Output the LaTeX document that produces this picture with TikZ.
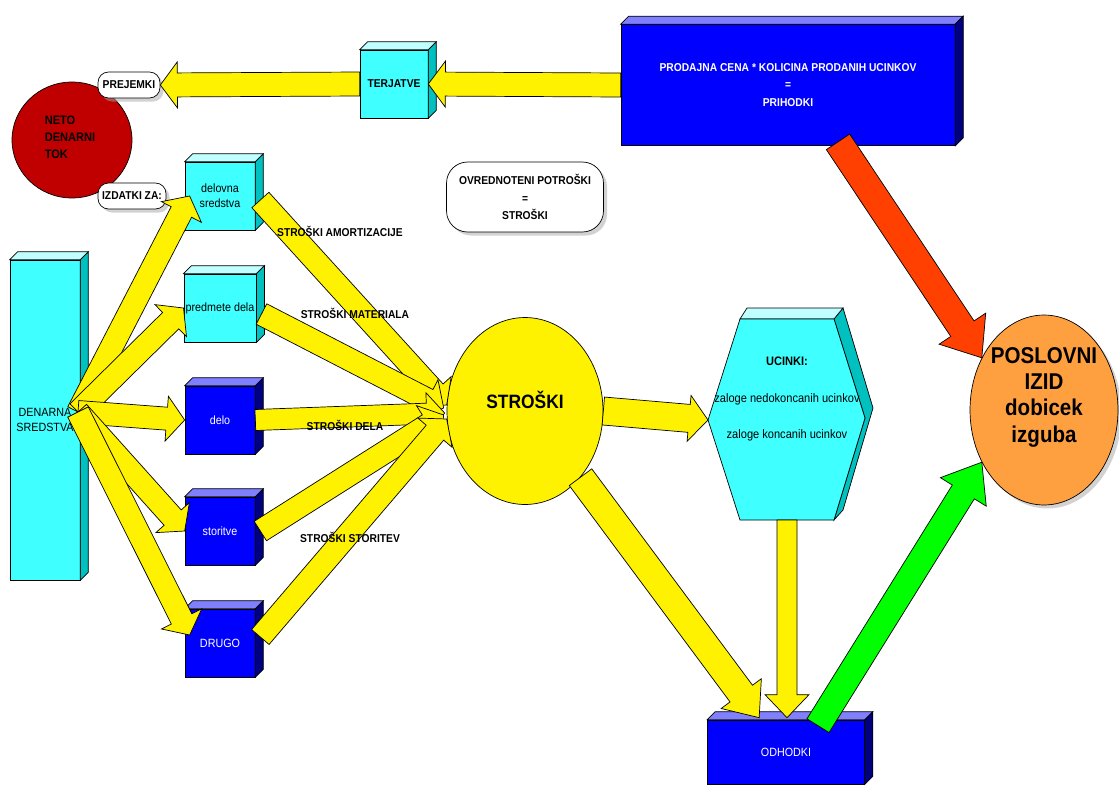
\documentclass[tikz,border=0pt]{standalone}
\usepackage{fontspec}
\setmainfont{Liberation Sans}[FakeStretch=0.9]
\usetikzlibrary{calc, shapes.geometric, shadows}
\definecolor{cyan_front}{RGB}{64,255,255}
\definecolor{cyan_top}{RGB}{192,255,255}
\definecolor{cyan_side}{RGB}{0,192,192}
\definecolor{blue_front}{RGB}{0,0,255}
\definecolor{blue_top}{RGB}{128,128,255}
\definecolor{blue_side}{RGB}{0,0,128}
\definecolor{red_tok}{RGB}{192,0,0}
\definecolor{orange_izid}{RGB}{255,160,64}
\definecolor{red_flow}{RGB}{255,64,0}
\definecolor{green_flow}{RGB}{0,255,0}

% top and right face of a box node
\newcommand{\cubesides}[3]{%
  \draw[fill=#2] (#1.north west) -- ++(8,-8) -- ($(#1.north east)+(8,-8)$) -- (#1.north east) -- cycle;
  \draw[fill=#3] (#1.north east) -- ++(8,-8) -- ($(#1.south east)+(8,-8)$) -- (#1.south east) -- cycle;
}
% block arrow: from, to, colour, half body, half head, head length
\newcommand{\flow}[6]{%
  \coordinate (hb) at ($(#2)!#6!(#1)$);
  \draw[fill=#3, line join=miter] ($(#1)!#4!90:(#2)$) -- ($(hb)!#4!-90:(#1)$) -- ($(hb)!#5!-90:(#1)$)
    -- (#2) -- ($(hb)!#5!90:(#1)$) -- ($(hb)!#4!90:(#1)$) -- ($(#1)!#4!-90:(#2)$) -- cycle;
}

\begin{document}
\begin{tikzpicture}[x=0.02cm, y=-0.02cm,
                    cube/.style={draw, inner sep=1pt, align=center, font=\fontsize{6.8}{8.4}\selectfont},
                    cyanbox/.style={cube, fill=cyan_front},
                    bluebox/.style={cube, fill=blue_front, text=white},
                    note/.style={draw, fill=white, rounded corners=6pt, align=center, inner sep=2pt,
                                 font=\fontsize{6.5}{8}\selectfont\bfseries,
                                 drop shadow={shadow xshift=2pt, shadow yshift=-2pt, fill=gray!70}},
                    lbl/.style={font=\fontsize{6.5}{8}\selectfont\bfseries}]
  \useasboundingbox (0,0) rectangle (1119,785);

  % Revenues and receivables
  \node[bluebox, minimum width=6.68cm, minimum height=2.42cm, font=\fontsize{6.5}{8}\selectfont\bfseries] (prihodki) at (788,85)
    {PRODAJNA CENA * KOLICINA PRODANIH UCINKOV\\[2pt]=\\[2pt]PRIHODKI};
  \cubesides{prihodki}{blue_top}{blue_side}
  \node[cyanbox, minimum width=1.36cm, minimum height=1.36cm, font=\fontsize{6.5}{8}\selectfont\bfseries] (terjatve) at (394,84) {TERJATVE};
  \cubesides{terjatve}{cyan_top}{cyan_side}

  % Net cash flow
  \node[ellipse, draw, fill=red_tok, minimum width=2.4cm, minimum height=2.32cm] (tok) at (72,140) {};
  \node[lbl, align=left, font=\fontsize{7}{9.6}\selectfont\bfseries] (tok_text) at (70,137) {NETO\\DENARNI\\TOK};
  \node[note, minimum width=1.24cm, minimum height=0.52cm] (prejemki) at (129,85) {PREJEMKI};
  \node[note, minimum width=1.36cm, minimum height=0.52cm] (izdatki) at (132,196) {IZDATKI ZA:};
  \node[note, minimum width=3.14cm, minimum height=1.4cm, rounded corners=12pt] (potroski) at (525,197)
    {OVREDNOTENI POTROŠKI\\[2pt]=\\[2pt]STROŠKI};

  % Cash and what it is spent on
  \node[cyanbox, minimum width=1.4cm, minimum height=6.4cm] (denarna) at (45,420) {DENARNA\\SREDSTVA};
  \cubesides{denarna}{cyan_top}{cyan_side}
  \node[cyanbox, minimum width=1.4cm, minimum height=1.36cm] (delovna) at (220,196) {delovna\\sredstva};
  \cubesides{delovna}{cyan_top}{cyan_side}
  \node[cyanbox, minimum width=1.4cm, minimum height=1.36cm] (predmete) at (220,308) {predmete dela};
  \cubesides{predmete}{cyan_top}{cyan_side}
  \node[bluebox, minimum width=1.4cm, minimum height=1.36cm] (delo) at (220,420) {delo};
  \cubesides{delo}{blue_top}{blue_side}
  \node[bluebox, minimum width=1.4cm, minimum height=1.36cm] (storitve) at (220,531) {storitve};
  \cubesides{storitve}{blue_top}{blue_side}
  \node[bluebox, minimum width=1.4cm, minimum height=1.36cm] (drugo) at (220,643) {DRUGO};
  \cubesides{drugo}{blue_top}{blue_side}

  % Costs, outputs, expenses, result
  \node[ellipse, draw, fill=yellow, minimum width=3.12cm, minimum height=3.74cm] (stroski) at (525,411) {};
  \node[font=\fontsize{11}{13}\selectfont\bfseries] (stroski_text) at (525,400) {STROŠKI};
  \draw[fill=cyan_side] (834,319) -- (843,308) -- (873,408) -- (843,510) -- (834,520) -- (865,418) -- cycle;
  \draw[fill=cyan_top] (740,319) -- (747,308) -- (843,308) -- (834,319) -- cycle;
  \draw[fill=cyan_front] (740,319) -- (834,319) -- (865,418) -- (834,520) -- (740,520) -- (708,420) -- cycle;
  \node[align=center, font=\fontsize{7}{8.4}\selectfont] (ucinki) at (787,399)
    {\textbf{UCINKI:}\\[13pt]zaloge nedokoncanih ucinkov\\[12pt]zaloge koncanih ucinkov};
  \coordinate (ucinki_left) at (708,420);
  \coordinate (ucinki_bottom) at (787,520);
  \node[bluebox, minimum width=3.14cm, minimum height=1.28cm] (odhodki) at (786,752) {ODHODKI};
  \cubesides{odhodki}{blue_top}{blue_side}
  \node[ellipse, draw, fill=orange_izid, minimum width=2.96cm, minimum height=3.8cm,
        drop shadow={shadow xshift=2pt, shadow yshift=-2pt, fill=gray!70}] (izid) at (1044,410) {};
  \node[align=center, font=\fontsize{13}{15}\selectfont\bfseries] (izid_text) at (1044,397)
    {POSLOVNI\\IZID\\dobicek\\izguba};

  % Flows
  \coordinate (fan) at (78,412);
  \flow{prihodki.west}{terjatve.east}{yellow}{0.24cm}{0.46cm}{0.34cm}
  \flow{terjatve.west}{prejemki.east}{yellow}{0.24cm}{0.46cm}{0.34cm}
  \flow{fan}{$(delovna.west)+(5,0)$}{yellow}{0.23cm}{0.45cm}{0.36cm}
  \flow{fan}{predmete.west}{yellow}{0.23cm}{0.45cm}{0.36cm}
  \flow{fan}{delo.west}{yellow}{0.23cm}{0.45cm}{0.36cm}
  \flow{fan}{storitve.west}{yellow}{0.23cm}{0.45cm}{0.36cm}
  \flow{fan}{$(drugo.west)+(5,-8)$}{yellow}{0.23cm}{0.45cm}{0.36cm}
  \flow{$(delovna.east)+(5,4)$}{$(stroski.west)+(0,-6)$}{yellow}{0.23cm}{0.45cm}{0.36cm}
  \flow{$(predmete.east)+(5,6)$}{$(stroski.west)+(-3,-3)$}{yellow}{0.23cm}{0.45cm}{0.36cm}
  \flow{delo.east}{$(stroski.west)+(-2,2)$}{yellow}{0.21cm}{0.42cm}{0.36cm}
  \flow{$(storitve.east)+(5,0)$}{$(stroski.west)+(-3,4)$}{yellow}{0.23cm}{0.45cm}{0.36cm}
  \flow{$(drugo.east)+(5,-6)$}{$(stroski.west)+(0,8)$}{yellow}{0.23cm}{0.45cm}{0.36cm}
  \flow{stroski.east}{ucinki_left}{yellow}{0.28cm}{0.46cm}{0.38cm}
  \flow{ucinki_bottom}{$(odhodki.north)+(1,-2)$}{yellow}{0.2cm}{0.44cm}{0.46cm}
  \flow{stroski.-50}{$(odhodki.north west)+(52,-2)$}{yellow}{0.28cm}{0.5cm}{0.6cm}
  \flow{$(odhodki.north)+(32,6)$}{izid.-140}{green_flow}{0.26cm}{0.54cm}{0.7cm}
  \flow{$(prihodki.south)+(50,-4)$}{izid.140}{red_flow}{0.28cm}{0.56cm}{0.7cm}

  % Cost labels
  \node[lbl] (amortizacija) at (340,231) {STROŠKI AMORTIZACIJE};
  \node[lbl] (materiala) at (355,313) {STROŠKI MATERIALA};
  \node[lbl] (dela) at (345,425) {STROŠKI DELA};
  \node[lbl] (storitev) at (350,537) {STROŠKI STORITEV};

\end{tikzpicture}
\end{document}
